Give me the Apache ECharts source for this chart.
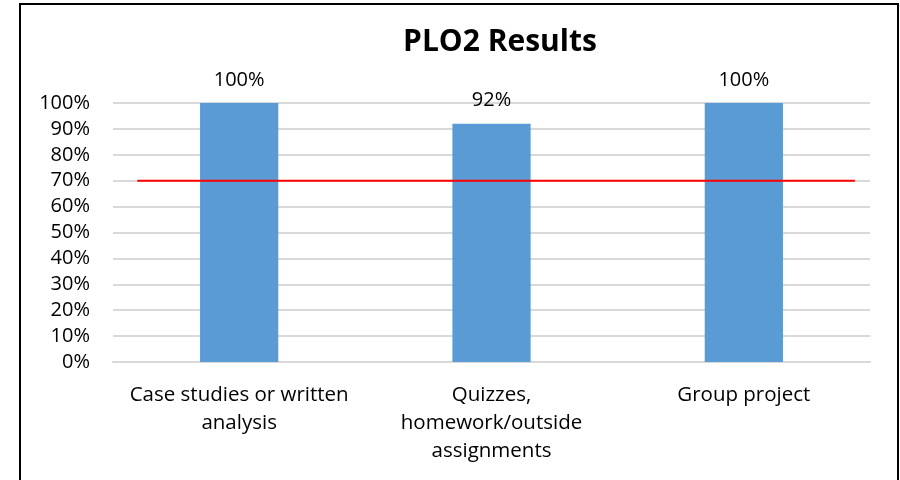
<!DOCTYPE html>
<html>
<head>
<meta charset="utf-8">
<script src="https://cdn.jsdelivr.net/npm/echarts@6/dist/echarts.min.js"></script>
<style>html,body{margin:0;padding:0;background:#fff;}#c{width:900px;height:480px;}</style>
</head>
<body>
<div id="c"></div>
<script>
const title = 'PLO2 Results';
const categories = ['Case studies or written\nanalysis', 'Quizzes,\nhomework/outside\nassignments', 'Group project'];
const values = [100, 92, 100];
const yTicks = [0, 10, 20, 30, 40, 50, 60, 70, 80, 90, 100];
const threshold = 70;
const thresholdSpan = [3.2, 98];

const FONT = 'Open Sans';
const chart = echarts.init(document.getElementById('c'), null, {renderer: 'canvas'});
chart.setOption({
  animation: false,
  backgroundColor: '#fff',
  title: {
    text: title, left: 495, top: 22, textAlign: 'center',
    textStyle: {fontFamily: FONT, fontSize: 30, fontWeight: 'bold', color: '#000'}
  },
  graphic: [{
    type: 'rect', shape: {x: 20, y: 4, width: 878, height: 490},
    style: {fill: 'none', stroke: '#000', lineWidth: 2}, silent: true
  }],
  grid: {left: 113, right: 30, top: 103, bottom: 118},
  xAxis: [{
    type: 'category', data: categories,
    axisLine: {show: true, lineStyle: {color: '#d9d9d9', width: 2}},
    axisTick: {show: false},
    axisLabel: {fontFamily: FONT, fontSize: 20.5, color: '#000', lineHeight: 28, margin: 19, interval: 0}
  }, {
    type: 'value', min: 0, max: 100, show: false
  }],
  yAxis: {
    type: 'value', min: 0, max: 100, interval: 10,
    axisLine: {show: false}, axisTick: {show: false},
    splitLine: {lineStyle: {color: '#d9d9d9', width: 2}},
    axisLabel: {fontFamily: FONT, fontSize: 20, color: '#000', margin: 23, formatter: v => yTicks.includes(v) ? v + '%' : ''}
  },
  series: [{
    type: 'bar', data: values, barWidth: '31%', xAxisIndex: 0,
    itemStyle: {color: '#5b9bd5'},
    label: {show: true, position: 'top', distance: 13, fontFamily: FONT, fontSize: 20, color: '#000', formatter: p => p.value + '%'}
  }, {
    type: 'line', xAxisIndex: 1, data: thresholdSpan.map(x => [x, threshold]),
    symbol: 'none', lineStyle: {color: '#ff0000', width: 2}, z: 5
  }]
});
</script>
</body>
</html>
